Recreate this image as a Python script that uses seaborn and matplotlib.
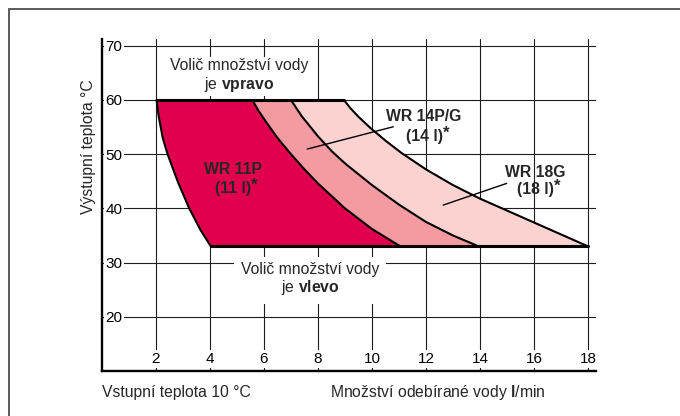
import matplotlib
matplotlib.use("Agg")
import matplotlib.pyplot as plt
import seaborn as sns
from matplotlib.patches import Rectangle

# axis ticks
x_ticks = [2, 4, 6, 8, 10, 12, 14, 16, 18]
y_ticks = [20, 30, 40, 50, 60, 70]

# outlet temperature range of the chart (top / bottom edge)
t_top = 60
t_bottom = 33

# common left edge of all bands (flow l/min vs. temperature)
left_x = [2.02, 2.1, 2.25, 2.43, 2.8, 3.23, 3.65, 4.03]
left_y = [60, 57, 53, 50, 45, 40, 36, 33]

# right edges of the bands
wr11_x = [5.57, 5.8, 6.1, 6.5, 7.0, 7.5, 8.0, 9.0, 10.0, 11.05]
wr11_y = [60, 58.0, 55.8, 53.0, 50.0, 47.2, 44.6, 40.0, 36.2, 33]

wr14_x = [7.0, 7.4, 8.0, 8.5, 9.0, 10.0, 11.0, 12.0, 13.0, 13.95]
wr14_y = [60, 57, 53.3, 50.6, 48.3, 44.3, 40.7, 37.5, 35, 33]

wr18_x = [8.96, 9.2, 9.5, 9.95, 10.5, 11.1, 12.0, 13.0, 14.0, 15.0, 16.0, 17.0, 18.0]
wr18_y = [60, 58.5, 56.9, 54.8, 52.5, 50.2, 47.2, 44.3, 41.8, 39.6, 37.4, 35.2, 33]

band_names = ["WR 18G", "WR 14P/G", "WR 11P"]
band_litres = ["(18 l)", "(14 l)", "(11 l)"]
band_colors = ["#fad2d0", "#f39ba0", "#e0004e"]

sns.set_theme(style="white")
plt.rcParams["font.family"] = ["Liberation Sans", "DejaVu Sans"]
plt.rcParams["mathtext.fontset"] = "custom"
plt.rcParams["mathtext.rm"] = "Liberation Sans"
plt.rcParams["mathtext.it"] = "Liberation Sans:italic"
plt.rcParams["mathtext.bf"] = "Liberation Sans:bold"

fig = plt.figure(figsize=(6.8, 4.16), dpi=100)
ax = fig.add_axes([0.15, 0.1082, 0.7265, 0.7974])

# bands, widest first so the narrower ones sit on top
rights = [(wr18_x, wr18_y), (wr14_x, wr14_y), (wr11_x, wr11_y)]
for (rx, ry), col in zip(rights, band_colors):
    ax.fill(left_x + rx[::-1], left_y + ry[::-1], color=col, lw=0, zorder=1)

# outlines
for cx, cy in [(left_x, left_y)] + rights:
    sns.lineplot(x=cx, y=cy, sort=False, estimator=None, color="black",
                 lw=1.5, ax=ax, zorder=2)
sns.lineplot(x=[left_x[0], wr18_x[0]], y=[t_top, t_top], sort=False,
             estimator=None, color="black", lw=2.2, ax=ax, zorder=2)
sns.lineplot(x=[left_x[-1], wr18_x[-1]], y=[t_bottom, t_bottom], sort=False,
             estimator=None, color="black", lw=2.2, ax=ax, zorder=2)

# band labels (two lines + asterisk) with leader lines
label_pos = [(16.04, 46.7, 43.5), (11.93, 56.9, 53.2), (4.85, 47.2, 43.65)]
leaders = [([12.64, 14.99], [40.61, 44.61]), ([7.60, 10.79], [50.94, 55.06]), None]
for name, lit, (lx, y1, y2), lead in zip(band_names, band_litres, label_pos, leaders):
    ax.text(lx, y1, name, ha="center", va="center", fontsize=11.3,
            fontweight="bold", zorder=4)
    t2 = ax.text(lx, y2, lit, ha="center", va="center", fontsize=11.3,
                 fontweight="bold", zorder=4)
    ax.annotate("*", xy=(1, 1), xycoords=t2, xytext=(0.3, 2.5),
                textcoords="offset points", ha="left", va="top",
                fontsize=12, fontweight="bold", zorder=4)
    if lead is not None:
        sns.lineplot(x=lead[0], y=lead[1], sort=False, estimator=None,
                     color="black", lw=1.0, ax=ax, zorder=3)

ax.text(5.07, 64.5, "Volič množství vody\nje $\\mathbf{vpravo}$", ha="center",
        va="center", fontsize=11.3, linespacing=1.15, zorder=4,
        bbox=dict(facecolor="white", edgecolor="none", pad=2))
ax.text(7.72, 26.86, "Volič množství vody\nje $\\mathbf{vlevo}$", ha="center",
        va="center", fontsize=11.3, linespacing=1.1, zorder=4,
        bbox=dict(facecolor="white", edgecolor="none", pad=5))

# axes
ax.set_xlim(0, 18.3)
ax.set_ylim(10, 71.2)
ax.set_xticks(x_ticks, labels=[str(v) for v in x_ticks])
ax.set_yticks(y_ticks, labels=[str(v) for v in y_ticks])
ax.set_axisbelow(True)
ax.grid(True, color="#1e1e1e", lw=0.8)
for side in ["top", "right"]:
    ax.spines[side].set_visible(False)
for side in ["left", "bottom"]:
    ax.spines[side].set_color("black")
    ax.spines[side].set_linewidth(1.7)
ax.tick_params(axis="both", length=0, labelsize=11, labelcolor="black")
ax.tick_params(axis="y", pad=-2.5)
ax.tick_params(axis="x", pad=-5.5)
for lab in ax.get_yticklabels():
    lab.set_ha("left")
    lab.set_bbox(dict(facecolor="white", edgecolor="none", pad=1))
for lab in ax.get_xticklabels():
    lab.set_va("baseline")
    lab.set_bbox(dict(facecolor="white", edgecolor="none", pad=1.5))

ax.text(-0.0182, 0.677, "Výstupní teplota °C", rotation=90, rotation_mode="anchor",
        ha="center", va="baseline", transform=ax.transAxes, fontsize=11.3)
ax.text(0.0, -0.0775, "Vstupní teplota 10 °C", ha="left", va="baseline",
        transform=ax.transAxes, fontsize=11.3)
ax.text(0.4607, -0.0775, "Množství odebírané vody $\\mathbf{l}$/min", ha="left",
        va="baseline", transform=ax.transAxes, fontsize=11.3)

# outer frame (only left and top edges visible)
fig.add_artist(Rectangle((8.5 / 680, -0.5), 2, 1 - 8.5 / 416 + 0.5,
                         transform=fig.transFigure, fill=False,
                         edgecolor="#404040", lw=1.2))

fig.savefig("out.png", dpi=100)
